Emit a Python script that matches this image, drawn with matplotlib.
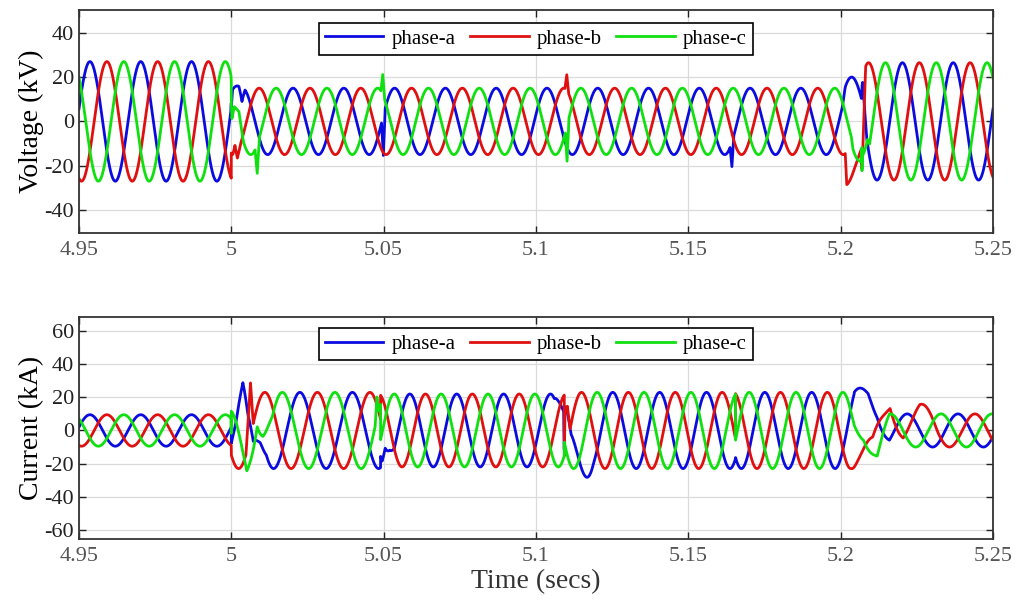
import numpy as np
import matplotlib.pyplot as plt

plt.rcParams['font.family'] = ['Liberation Serif', 'DejaVu Serif']
plt.rcParams['axes.unicode_minus'] = False

# axis setup
t_min, t_max = 4.95, 5.25
x_ticks = [4.95, 5.0, 5.05, 5.1, 5.15, 5.2, 5.25]
x_tick_labels = ['4.95', '5', '5.05', '5.1', '5.15', '5.2', '5.25']
phase_names = ['phase-a', 'phase-b', 'phase-c']
phase_colors = ['#0b0be0', '#e01010', '#10e010']

# voltage (kV): balanced 3-phase segments
# segment start, peak amplitude, frequency (Hz), time of a phase-a crest
v_start = [4.95, 5.0, 5.207]
v_amp = [27, 15, 26.5]
v_freq = [60, 60, 60]
v_crest = [4.9536, 4.9536, 4.9536]

# switching transients: (time, deviation in kV)
v_dev_a = [(4.9998, 0), (5.0004, 9), (5.0025, 2), (5.0035, -6), (5.0045, 0),
           (5.0493, 0), (5.0499, -18), (5.0505, 0),
           (5.1637, 0), (5.1643, -11), (5.1649, 0),
           (5.2005, 0), (5.2015, 5), (5.2068, 5), (5.2072, 12), (5.2085, 0)]
v_dev_b = [(5.0005, 0), (5.0012, 4), (5.002, -3), (5.003, 0),
           (5.1095, 0), (5.1101, 7), (5.1107, 0),
           (5.2015, 0), (5.202, -15), (5.2068, -22), (5.2071, -38), (5.2082, 0)]
v_dev_c = [(4.9999, 0), (5.0002, -9), (5.001, 0), (5.0025, 6), (5.004, 0),
           (5.0078, 0), (5.0085, -13), (5.0092, 0),
           (5.0491, 0), (5.0497, 9), (5.0503, 0),
           (5.1096, 0), (5.1102, -16), (5.1108, 0),
           (5.2035, 0), (5.204, -3), (5.2068, -3), (5.2072, 10), (5.2088, 8), (5.2095, 0)]

# current (kA)
i_start = [4.95, 5.0, 5.049, 5.1093, 5.1655, 5.20445]
i_amp = [9.5, 23, 22, 23, 23, 10]
i_freq = [60, 58, 65, 65, 65, 60]
i_crest = [4.9536, 5.0225, 5.0586, 5.1252, 5.1751, 5.2385]

i_dev_a = [(5.0015, 0), (5.0038, 9), (5.0055, -14), (5.0072, -24), (5.0095, -8), (5.0115, 0),
           (5.0495, 0), (5.0505, 11), (5.052, 8), (5.0535, 0),
           (5.106, 0), (5.1091, 16), (5.1093, -8), (5.11, -10), (5.1115, -20), (5.1144, -13), (5.119, 0),
           (5.2025, 0), (5.20445, 3), (5.20445, 13.4), (5.209, 21), (5.212, 16), (5.216, 0)]
i_dev_b = [(5.0048, 0), (5.0063, 32), (5.0072, 0),
           (5.1093, 0), (5.1095, 24), (5.1103, 22), (5.1112, 0),
           (5.2035, 0), (5.20445, -1.5), (5.20445, -15), (5.2105, -14), (5.2162, 18),
           (5.2205, 4), (5.226, 7), (5.232, 0)]
i_dev_c = [(4.9999, 0), (5.0, -11), (5.0051, -14), (5.0085, 25), (5.0104, 12), (5.0135, 0),
           (5.0472, 0), (5.0478, 13), (5.0484, 0),
           (5.2035, 0), (5.20445, 2), (5.20445, 5.5), (5.2075, 4), (5.212, -15), (5.216, 0)]


def three_phase(t, start, amp, freq, crest, devs):
    seg = np.searchsorted(start, t, side='right') - 1
    A = np.take(amp, seg)
    f = np.take(freq, seg)
    c = np.take(crest, seg)
    waves = []
    for k, dev in enumerate(devs):
        tk, dk = zip(*dev)
        w = A * np.cos(2 * np.pi * (f * (t - c) - k / 3.0))
        w = w + np.interp(t, tk, dk, left=0, right=0)
        waves.append(w)
    return waves


t = np.arange(t_min, t_max + 1e-6, 2e-5)
voltage = three_phase(t, v_start, v_amp, v_freq, v_crest, [v_dev_a, v_dev_b, v_dev_c])
current = three_phase(t, i_start, i_amp, i_freq, i_crest, [i_dev_a, i_dev_b, i_dev_c])

fig = plt.figure(figsize=(10.19, 6.10), dpi=100)
ax1 = fig.add_axes([0.0775, 0.618, 0.897, 0.366])
ax2 = fig.add_axes([0.0775, 0.1164, 0.897, 0.364])

panels = [(ax1, voltage, 'Voltage (kV)', (-50.4, 50.4), [-40, -20, 0, 20, 40], 0.942),
          (ax2, current, 'Current (kA)', (-65.5, 68.5), [-60, -40, -20, 0, 20, 40, 60], 0.95)]

for ax, waves, ylabel, ylim, yticks, leg_top in panels:
    for w, name, col in zip(waves, phase_names, phase_colors):
        ax.plot(t, w, color=col, lw=2.0, label=name)
    ax.set_xlim(t_min, t_max)
    ax.set_ylim(*ylim)
    ax.set_xticks(x_ticks)
    ax.set_xticklabels(x_tick_labels)
    ax.set_yticks(yticks)
    ax.set_ylabel(ylabel, fontsize=20, labelpad=0)
    ax.grid(True, color='#dadada', lw=0.9)
    ax.set_axisbelow(True)
    ax.tick_params(direction='in', top=True, right=True, length=5, width=1,
                   labelsize=16, colors='#222222')
    ax.tick_params(axis='x', labelcolor='#555555', pad=6)
    for sp in ax.spines.values():
        sp.set_linewidth(1.3)
        sp.set_color('#333333')
    leg = ax.legend(loc='upper center', bbox_to_anchor=(0.5, leg_top), ncol=3,
                    fancybox=False, framealpha=1, edgecolor='black', fontsize=15,
                    handlelength=2.8, columnspacing=0.7, handletextpad=0.4,
                    borderpad=0.3, borderaxespad=0)
    leg.get_frame().set_linewidth(1.2)

ax2.set_xlabel('Time (secs)', fontsize=20, color='#333333', labelpad=2)

fig.savefig('out.png', dpi=100)
